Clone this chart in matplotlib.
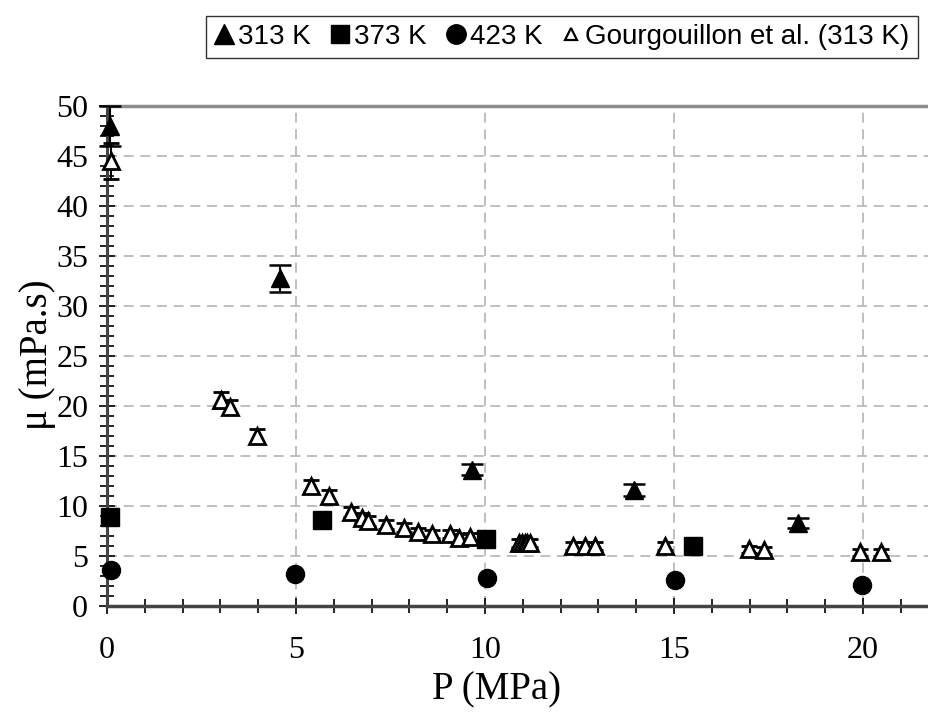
import matplotlib
matplotlib.use("Agg")
import matplotlib.pyplot as plt
from matplotlib.ticker import MultipleLocator
from matplotlib.lines import Line2D

# ---- data ----
p_313 = [0.08, 4.58, 9.65, 13.95, 18.29]
mu_313 = [48.0, 32.75, 13.6, 11.6, 8.3]
err_313 = [2.0, 1.35, 0.55, 0.6, 0.5]

p_373 = [0.08, 5.70, 10.03, 15.51]
mu_373 = [8.9, 8.6, 6.65, 5.95]

p_423 = [0.1, 4.97, 10.04, 15.02, 19.98]
mu_423 = [3.6, 3.2, 2.75, 2.6, 2.05]

p_gour = [0.1, 3.02, 3.25, 3.98, 5.40, 5.87, 6.45, 6.75, 6.90, 7.38, 7.87, 8.24,
          8.59, 9.07, 9.32, 9.59, 10.90, 10.98, 11.05, 11.12, 11.19, 12.34, 12.65,
          12.91, 14.75, 16.98, 17.38, 19.93, 20.48]
mu_gour = [44.5, 20.6, 19.9, 16.95, 12.0, 11.0, 9.35, 8.8, 8.5, 8.1, 7.8, 7.35,
           7.15, 7.15, 6.75, 6.85, 6.3, 6.3, 6.3, 6.3, 6.3, 6.0, 6.0,
           6.0, 5.95, 5.65, 5.55, 5.35, 5.35]
err_gour = [1.8, 0.8, 0.7, 0.7, 0.6, 0.6, 0.5, 0.5, 0.5, 0.45, 0.45, 0.45,
            0.4, 0.4, 0.4, 0.4, 0.4, 0.4, 0.4, 0.4, 0.4, 0.4, 0.4,
            0.4, 0.4, 0.35, 0.35, 0.35, 0.35]

legend_labels = ["313 K", "373 K", "423 K", "Gourgouillon et al. (313 K)"]

W, H = 929, 717
fig = plt.figure(figsize=(W / 100, H / 100), dpi=100)
ax = fig.add_axes([107 / W, 1 - 605.7 / H, (W - 107) / W, 500 / H])

serif = ["Liberation Serif", "DejaVu Serif"]
sans = ["Liberation Sans", "DejaVu Sans"]

ax.set_xlim(0, (W - 107) / 37.8)
ax.set_ylim(0, 50)

ax.grid(True, which="major", color="#b4b4b4", linestyle=(0, (6, 4)), linewidth=1.2)
ax.set_axisbelow(True)

# Gourgouillon (open triangles)
ax.errorbar(p_gour, mu_gour, yerr=err_gour, fmt="^", ms=11, mfc="white", mec="black",
            mew=2.0, ecolor="black", elinewidth=1.5, capsize=6, capthick=1.8,
            clip_on=False, zorder=3)
# 313 K
ax.errorbar(p_313, mu_313, yerr=err_313, fmt="^", ms=13, mfc="black", mec="black",
            ecolor="black", elinewidth=1.5, capsize=8, capthick=1.8, clip_on=False, zorder=4)
# 373 K
ax.plot(p_373, mu_373, "s", ms=12.5, color="black", clip_on=False, zorder=4)
# 423 K
ax.plot(p_423, mu_423, "o", ms=13, color="black", clip_on=False, zorder=4)

ax.xaxis.set_major_locator(MultipleLocator(5))
ax.xaxis.set_minor_locator(MultipleLocator(1))
ax.yaxis.set_major_locator(MultipleLocator(5))
ax.yaxis.set_minor_locator(MultipleLocator(1))

ax.tick_params(axis="both", which="both", direction="inout", color="black", width=1.2)
ax.tick_params(axis="both", which="major", length=11)
ax.tick_params(axis="both", which="minor", length=10)
ax.tick_params(axis="x", which="major", pad=16, labelsize=23)
ax.tick_params(axis="y", which="major", pad=8, labelsize=23)
for lab in ax.get_xticklabels() + ax.get_yticklabels():
    lab.set_family(serif)

ax.spines["right"].set_visible(False)
ax.spines["top"].set_color("#8c8c8c")
ax.spines["top"].set_linewidth(2.5)
ax.spines["left"].set_color("#444444")
ax.spines["left"].set_linewidth(2.2)
ax.spines["bottom"].set_color("#444444")
ax.spines["bottom"].set_linewidth(2.5)

fig.text(497 / W, 1 - 690 / H, "P (MPa)", ha="center", va="center",
         fontsize=28, family=serif)
fig.text(38 / W, 1 - 355 / H, "\u03bc (mPa.s)", ha="center", va="center",
         fontsize=28, family=serif, rotation=90)

handles = [
    Line2D([], [], marker="^", ls="none", ms=14, mfc="black", mec="black"),
    Line2D([], [], marker="s", ls="none", ms=13, mfc="black", mec="black"),
    Line2D([], [], marker="o", ls="none", ms=14, mfc="black", mec="black"),
    Line2D([], [], marker="^", ls="none", ms=9, mfc="white", mec="black", mew=1.6),
]
leg = fig.legend(handles, legend_labels, ncol=4, loc="center",
                 bbox_to_anchor=(562 / W, 1 - 37 / H), frameon=True, fancybox=False,
                 handlelength=0.7, handletextpad=0.15, columnspacing=0.7,
                 borderpad=0.3, prop={"family": sans, "size": 20})
leg.get_frame().set_edgecolor("black")
leg.get_frame().set_linewidth(1.0)

fig.savefig("out.png", dpi=100)
